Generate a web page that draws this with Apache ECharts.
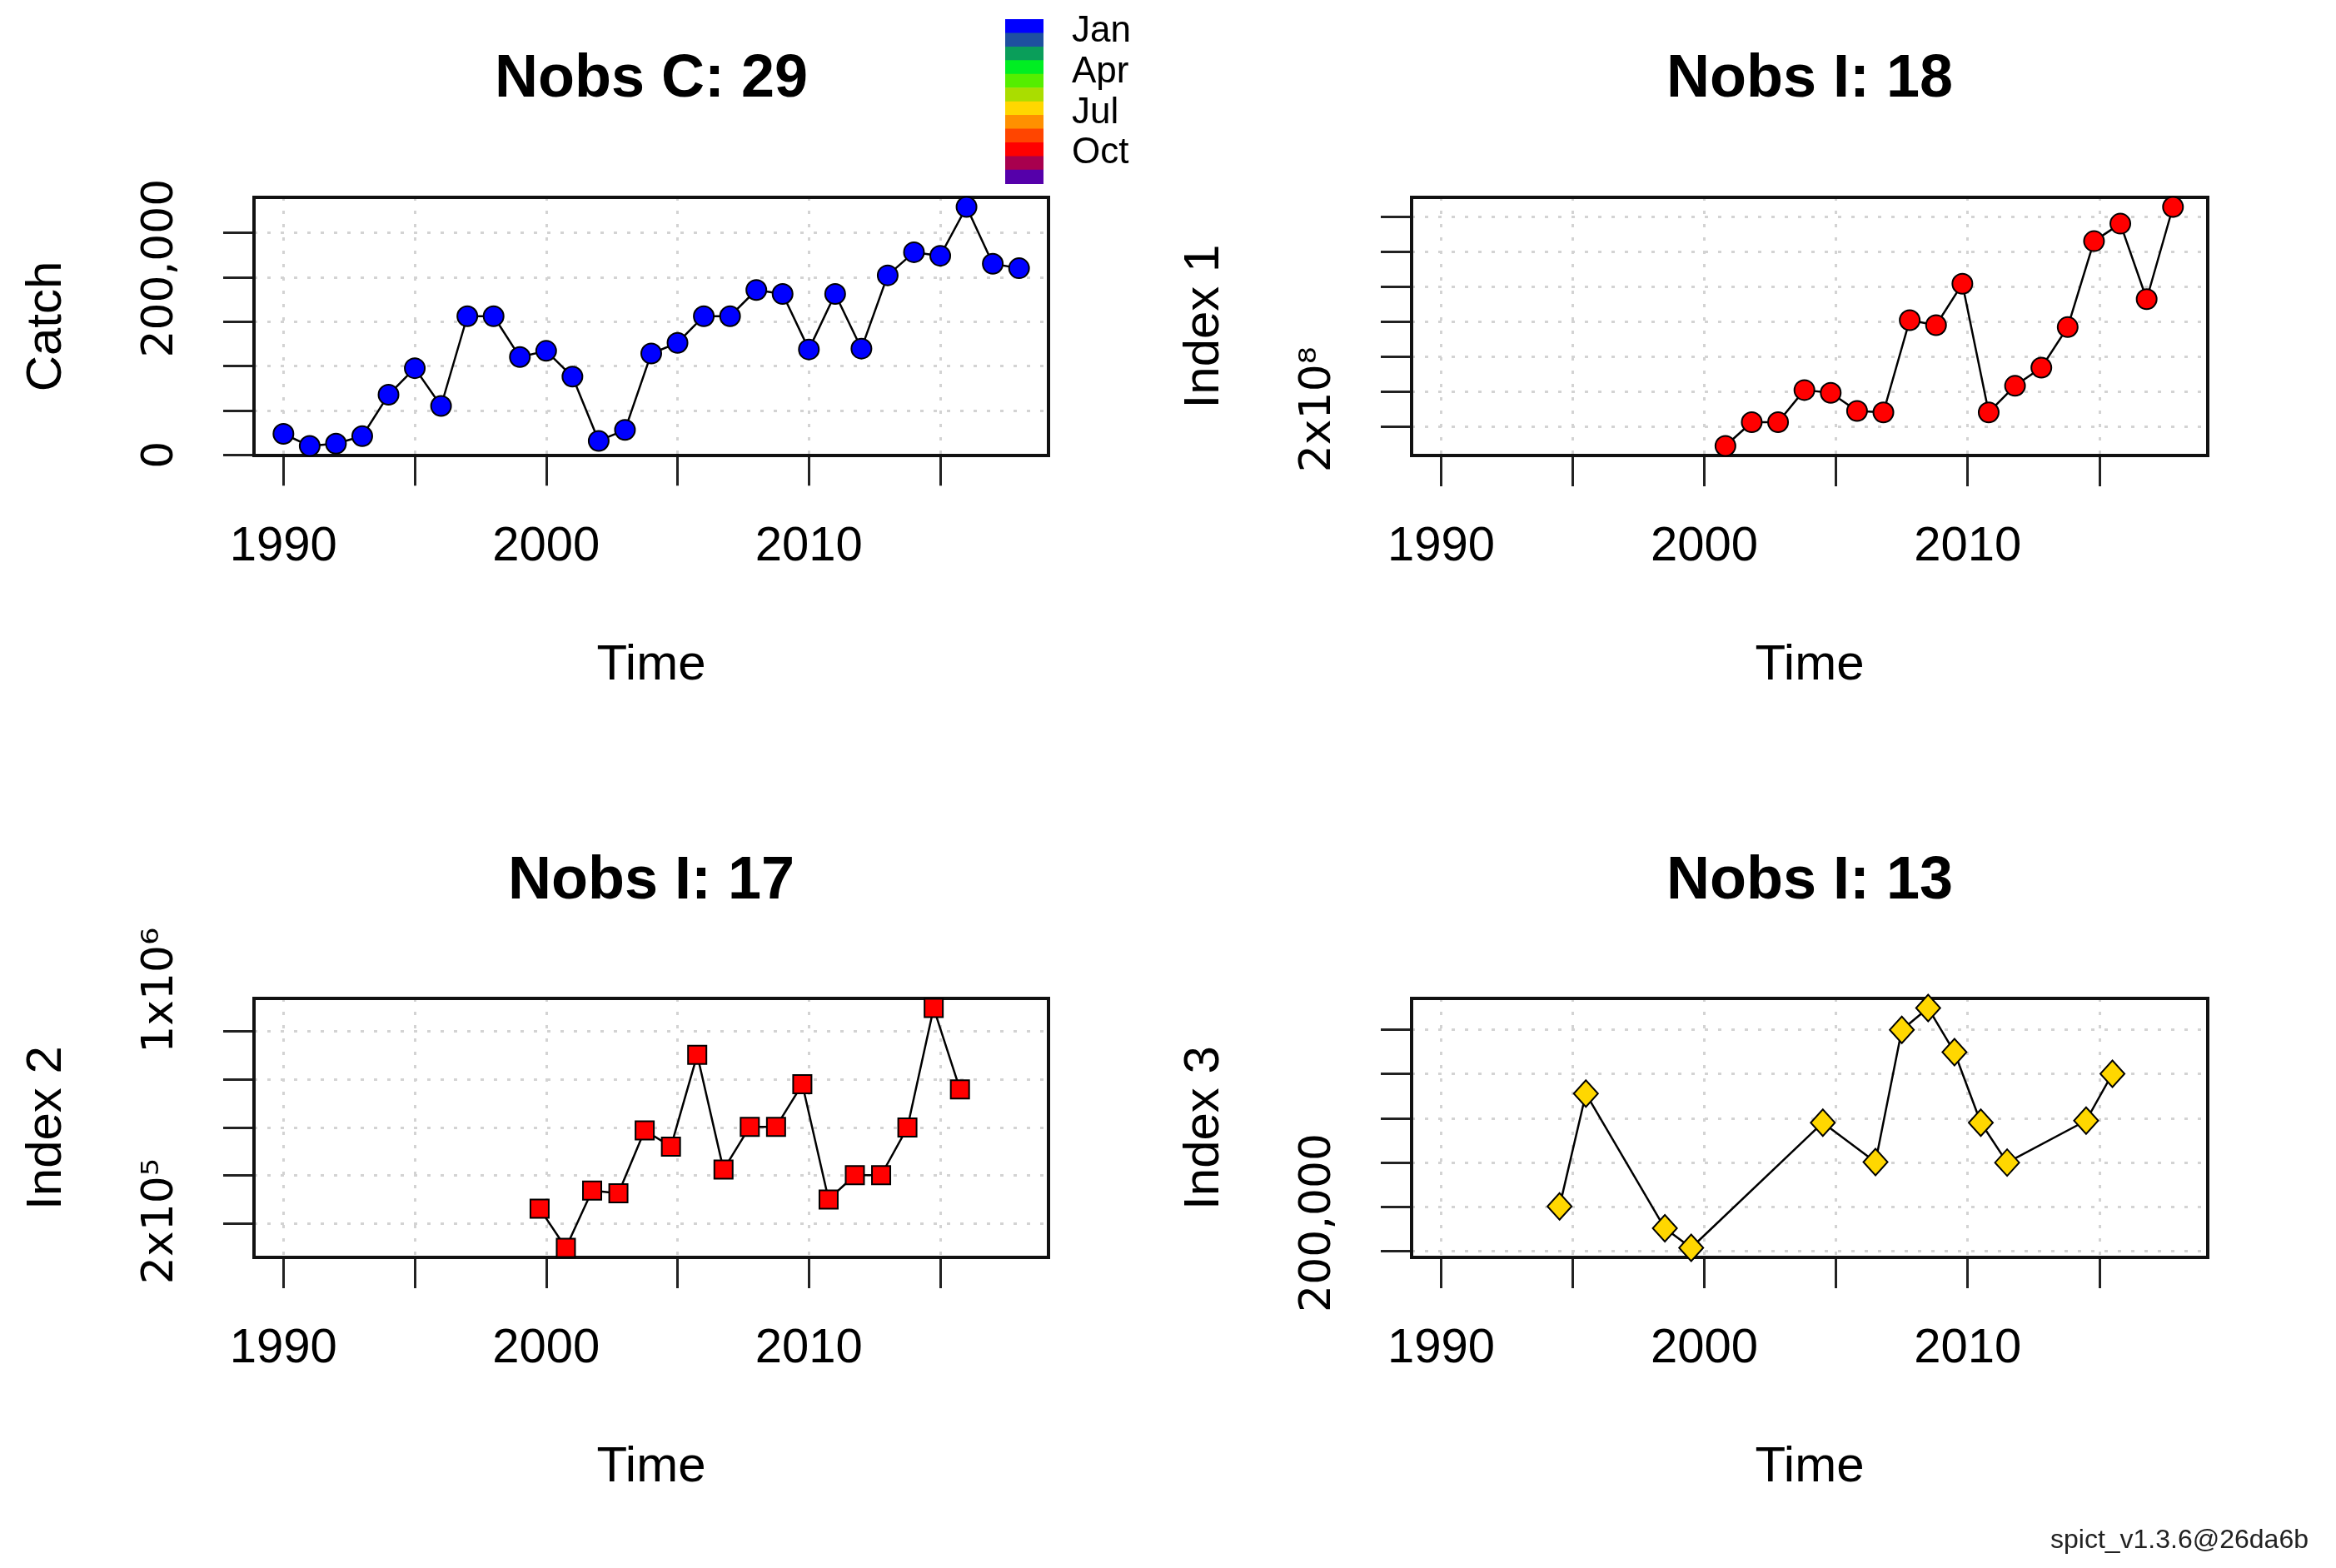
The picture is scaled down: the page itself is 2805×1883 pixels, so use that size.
<!DOCTYPE html>
<html><head><meta charset="utf-8">
<script src="https://cdn.jsdelivr.net/npm/echarts@6/dist/echarts.min.js"></script>
<style>html,body{margin:0;padding:0;background:#fff}#c{width:2805px;height:1883px}</style>
</head><body><div id="c"></div>
<script>
// ---------------- data ----------------
const catchTime = [1990,1991,1992,1993,1994,1995,1996,1997,1998,1999,2000,2001,2002,2003,2004,2005,2006,2007,2008,2009,2010,2011,2012,2013,2014,2015,2016,2017,2018];
const catchVals = [23600,10000,12600,21000,67600,97500,55000,156000,156000,110000,117000,88000,15700,28000,114000,126000,156000,156000,185500,181000,118600,181000,119500,202000,228000,224000,279000,215000,210000];

const index1Time = [2000.8,2001.8,2002.8,2003.8,2004.8,2005.8,2006.8,2007.8,2008.8,2009.8,2010.8,2011.8,2012.8,2013.8,2014.8,2015.8,2016.8,2017.8];
const index1Vals = [0.88e8,2.24e8,2.24e8,4.08e8,3.92e8,2.88e8,2.80e8,8.08e8,7.79e8,10.16e8,2.80e8,4.32e8,5.36e8,7.68e8,12.6e8,13.6e8,9.28e8,14.56e8];

const index2Time = [1999.75,2000.75,2001.75,2002.75,2003.75,2004.75,2005.75,2006.75,2007.75,2008.75,2009.75,2010.75,2011.75,2012.75,2013.75,2014.75,2015.75];
const index2Vals = [2.62e5,0.99e5,3.37e5,3.26e5,5.87e5,5.20e5,9.01e5,4.24e5,6.02e5,6.02e5,7.79e5,3.00e5,4.01e5,4.01e5,5.99e5,10.96e5,7.58e5];

const index3Time = [1994.5,1995.5,1998.5,1999.5,2004.5,2006.5,2007.5,2008.5,2009.5,2010.5,2011.5,2014.5,2015.5];
const index3Vals = [250000,377800,225300,203200,344900,300300,450000,474700,424700,344900,299700,347200,400300];

// ticks and labels
const xTicks = [1990,1995,2000,2005,2010,2015];
const xTickLabels = [1990,2000,2010];
const catchTicks = [0,50000,100000,150000,200000,250000];
const index1Ticks = [2e8,4e8,6e8,8e8,10e8,12e8,14e8];
const index2Ticks = [2e5,4e5,6e5,8e5,10e5];
const index3Ticks = [200000,250000,300000,350000,400000,450000];

const catchLabelAt = [0,210000];       const catchLabelText = ['0','200,000'];
const index1LabelAt = [2.96e8];        const index1LabelText = ['2x10\u2078'];
const index2LabelAt = [2.09e5,11.69e5];const index2LabelText = ['2x10\u2075','1x10\u2076'];
const index3LabelAt = [231600];        const index3LabelText = ['200,000'];

const monthColors = ['#0000FF','#1E50A0','#0A9E5A','#00EE22','#55EE00','#AADD00','#FFD700','#FF9000','#FF4500','#FF0000','#A8004E','#5500AA'];
const monthLabels = ['Jan','Apr','Jul','Oct'];
const stampText = 'spict_v1.3.6@26da6b';

// ---------------- chart ----------------
const FONT = 'Liberation Sans';
const allT = catchTime.concat(index1Time, index2Time, index3Time);
const tLo = Math.min(...allT), tHi = Math.max(...allT);
const xMin = tLo - 0.04 * (tHi - tLo), xMax = tHi + 0.04 * (tHi - tLo);

const grids = [
  {left:305, top:237, width:954, height:310},
  {left:1695, top:237, width:956, height:310},
  {left:305, top:1199, width:954, height:311},
  {left:1695, top:1199, width:956, height:311}
];

const panels = [
  {name:'Catch', t:catchTime, v:catchVals, ticks:catchTicks, lab:catchLabelAt, txt:catchLabelText, title:'Nobs C: '+catchVals.length, symbol:'circle', size:24},
  {name:'Index 1', t:index1Time, v:index1Vals, ticks:index1Ticks, lab:index1LabelAt, txt:index1LabelText, title:'Nobs I: '+index1Vals.length, symbol:'circle', size:24},
  {name:'Index 2', t:index2Time, v:index2Vals, ticks:index2Ticks, lab:index2LabelAt, txt:index2LabelText, title:'Nobs I: '+index2Vals.length, symbol:'rect', size:22},
  {name:'Index 3', t:index3Time, v:index3Vals, ticks:index3Ticks, lab:index3LabelAt, txt:index3LabelText, title:'Nobs I: '+index3Vals.length, symbol:'diamond', size:[29,32]}
];

function colorOf(t){ const f = t - Math.floor(t); return monthColors[Math.min(11, Math.floor(f*12 + 1e-9))]; }

const gridLine = {show:true, lineStyle:{color:'#d3d3d3', width:3, type:[4,12]}};
const tickStyle = {color:'#222', width:3};

const option = {
  backgroundColor:'#fff',
  animation:false,
  title: panels.map((p,i)=>({
    text:p.title, left: grids[i].left + grids[i].width/2, top: i<2 ? 96 : 1059,
    textAlign:'center', textVerticalAlign:'middle', padding:0,
    textStyle:{fontFamily:FONT, fontSize:72, fontWeight:'bold', color:'#000'}
  })),
  grid: grids.map(g=>Object.assign({show:false, containLabel:false}, g)),
  xAxis: panels.map((p,i)=>({
    type:'value', gridIndex:i, min:xMin, max:xMax,
    name:'Time', nameLocation:'middle', nameGap:222,
    nameTextStyle:{fontFamily:FONT, fontSize:60, color:'#000'},
    axisLine:{show:false},
    axisTick:{show:true, customValues:xTicks, length:37, inside:false, lineStyle:tickStyle},
    axisLabel:{show:true, customValues:xTickLabels, margin:81, fontFamily:FONT, fontSize:58, color:'#000', formatter:v=>String(Math.round(v))},
    splitLine:gridLine
  })),
  yAxis: panels.map((p,i)=>{
    const lo = Math.min(...p.v), hi = Math.max(...p.v), pad = 0.04*(hi-lo);
    return {
      type:'value', gridIndex:i, min:lo-pad, max:hi+pad,
      name:p.name, nameLocation:'middle', nameGap:219, nameRotate:90,
      nameTextStyle:{fontFamily:FONT, fontSize:60, color:'#000'},
      axisLine:{show:false},
      axisTick:{show:true, customValues:p.ticks, length:37, inside:false, lineStyle:tickStyle},
      axisLabel:{show:false},
      splitLine:gridLine
    };
  }),
  series: panels.map((p,i)=>({
    type:'line', xAxisIndex:i, yAxisIndex:i,
    data: p.t.map((t,k)=>[t, p.v[k]]),
    symbol:p.symbol, symbolSize:p.size, showSymbol:true, clip:false,
    lineStyle:{color:'#000', width:2.5},
    itemStyle:{color:(params)=>colorOf(params.data[0]), borderColor:'#000', borderWidth:2},
    emphasis:{disabled:true}, silent:true, z:3
  }))
};

const chart = echarts.init(document.getElementById('c'), null, {renderer:'canvas'});
chart.setOption(option);

const els = [];
// plot boxes (drawn above the dotted grid)
grids.forEach(g=>{
  els.push({type:'rect', z:2, silent:true, shape:{x:g.left, y:g.top, width:g.width, height:g.height},
    style:{fill:null, stroke:'#111', lineWidth:4}});
});
// y tick labels placed through the axes' own scales
panels.forEach((p,i)=>{
  p.lab.forEach((v,k)=>{
    const px = chart.convertToPixel({xAxisIndex:i, yAxisIndex:i}, [xMin, v]);
    els.push({type:'text', x:px[0]-112, y:px[1], rotation:Math.PI/2, z:10,
      style:{text:p.txt[k], fontFamily:'"DejaVu Sans"', fontSize:52, fill:'#000', align:'center', verticalAlign:'middle', textAlign:'center', textVerticalAlign:'middle'}});
  });
});
// month colour legend
const barX = 1207, barTop = 23, bandH = 16.44;
monthColors.forEach((c,k)=>{
  els.push({type:'rect', shape:{x:barX, y:barTop + k*bandH, width:46, height:bandH+0.6}, style:{fill:c}, z:10});
});
monthLabels.forEach((m,k)=>{
  els.push({type:'text', x:1287, y:38 + k*48.7, z:10,
    style:{text:m, fontFamily:FONT, fontSize:44, fill:'#000', align:'left', verticalAlign:'middle', textAlign:'left', textVerticalAlign:'middle'}});
});
els.push({type:'text', x:2772, y:1850, z:10,
  style:{text:stampText, fontFamily:FONT, fontSize:32, fill:'#222', align:'right', verticalAlign:'middle', textAlign:'right', textVerticalAlign:'middle'}});
chart.setOption({graphic:{elements:els}});
</script>
</body></html>
